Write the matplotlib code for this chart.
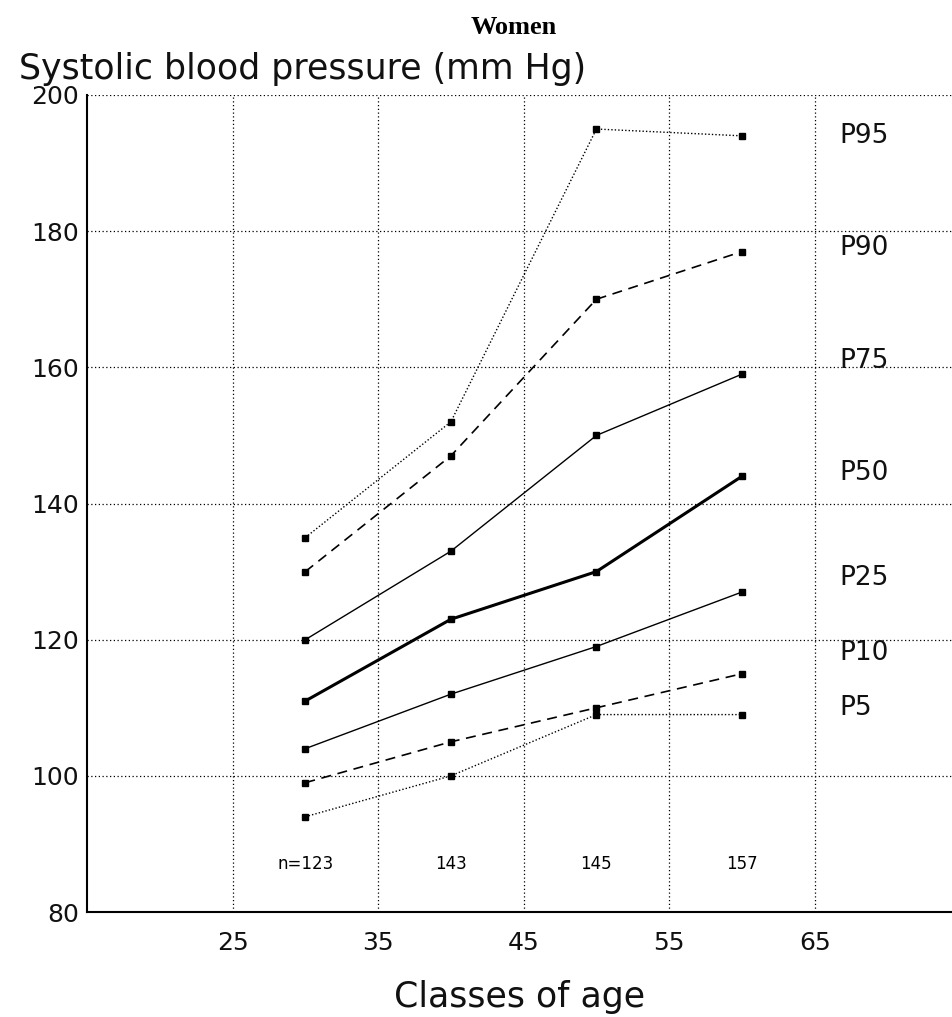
import matplotlib
matplotlib.use('Agg')
import matplotlib.pyplot as plt

# ── Data ──────────────────────────────────────────────────
AGES      = [30, 40, 50, 60]
P95       = [135, 152, 195, 194]
P90       = [130, 147, 170, 177]
P75       = [120, 133, 150, 159]
P50       = [111, 123, 130, 144]
P25       = [104, 112, 119, 127]
P10       = [99, 105, 110, 115]
P5        = [94, 100, 109, 109]
N_LABELS  = ['n=123', '143', '145', '157']
X_TICKS   = [25, 35, 45, 55, 65]
Y_TICKS   = [80, 100, 120, 140, 160, 180, 200]

# (values, label, linestyle, linewidth, label y)
series = [
    (P95, 'P95', (0, (1, 1.5)), 1.0, 194),
    (P90, 'P90', (0, (6, 4)),   1.2, 177.5),
    (P75, 'P75', '-',           1.0, 161),
    (P50, 'P50', '-',           2.2, 144.5),
    (P25, 'P25', '-',           1.0, 129),
    (P10, 'P10', (0, (6, 4)),   1.2, 118),
    (P5,  'P5',  (0, (1, 1.5)), 1.0, 110),
]

plt.rcParams['font.family'] = ['DejaVu Sans']

fig = plt.figure(figsize=(9.53, 10.17), dpi=100)
ax = fig.add_axes([0.0913, 0.1032, 0.9087, 0.8034])

for vals, name, ls, lw, ly in series:
    ax.plot(AGES, vals, color='black', linestyle=ls, linewidth=lw,
            marker='s', markersize=4.5)
    ax.text(66.7, ly, name, fontsize=19, color='#111111',
            ha='left', va='center')

for x, lab in zip(AGES, N_LABELS):
    ax.text(x, 87, lab, fontsize=12, ha='center', va='center')

ax.set_xlim(15, 74.5)
ax.set_ylim(80, 200)
ax.set_xticks(X_TICKS)
ax.set_yticks(Y_TICKS)
ax.tick_params(length=0, labelsize=18, labelcolor='#111111')
ax.tick_params(axis='x', pad=14)
ax.tick_params(axis='y', pad=6)
ax.grid(True, color='black', linestyle=(0, (1, 2)), linewidth=0.9)
ax.spines['top'].set_visible(False)
ax.spines['right'].set_visible(False)
ax.spines['left'].set_linewidth(1.5)
ax.spines['bottom'].set_linewidth(1.5)

ax.set_xlabel('Classes of age', fontsize=25, labelpad=18, color='#111111')
fig.text(0.02, 0.932, 'Systolic blood pressure (mm Hg)', fontsize=25,
         ha='left', va='center', color='#111111')
fig.text(0.539, 0.973, 'Women', fontsize=19, fontweight='bold',
         family='Liberation Serif', ha='center', va='center')

plt.savefig('out.png', dpi=100)
